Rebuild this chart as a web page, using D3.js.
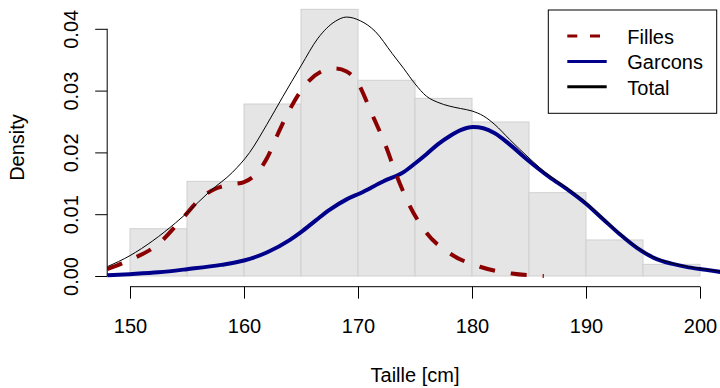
<!DOCTYPE html>
<html><head><meta charset="utf-8">
<script src="https://cdn.jsdelivr.net/npm/d3@7"></script>
<style>
html,body{margin:0;padding:0;background:#fff;}
text{font-family:"Liberation Sans",Arial,Helvetica,sans-serif;}
</style></head>
<body>
<svg id="chart" width="720" height="388"></svg>
<script>
// ---- data ----
const binStarts = [150,155,160,165,170,175,180,185,190,195];
const binWidth = 5;
const histDensity = [0.00765,0.01532,0.02783,0.04315,0.03167,0.02875,0.02492,0.01348,0.00583,0.00189];

const totalX = [148,150,152,154,155,157,159,160.5,162,163.4,165,166.5,168,169,170.2,171.5,173,174,175,176,177,178,179,180,181,182,183.3,185,186.8,188.3,190,191.5,193,194.5,196,197.5,199,200.5,202];
const totalY = [0.0015,0.0033,0.0057,0.0086,0.0102,0.0137,0.0168,0.0200,0.0245,0.0290,0.0340,0.0385,0.0412,0.0419,0.0413,0.0396,0.0360,0.0336,0.0311,0.0291,0.0281,0.0275,0.0271,0.0267,0.0259,0.0245,0.0221,0.0191,0.0162,0.0143,0.0119,0.0093,0.0068,0.0046,0.0030,0.0021,0.0015,0.0011,0.0007];

const garconsX = [148,150,152.5,155,158,160,162,164,165,166.3,167.5,169,170.2,172.2,174,175,176,177,178.1,179,180.1,181,182,183.3,184.8,186.8,188.3,190,191.5,193,194.5,196,197.5,199,200.5,202];
const garconsY = [0.0001,0.0003,0.0006,0.0011,0.0018,0.0025,0.0038,0.0058,0.0071,0.0090,0.0107,0.0124,0.0134,0.0153,0.0168,0.0182,0.0197,0.0213,0.0227,0.0236,0.0241,0.0239,0.0231,0.0213,0.0189,0.0160,0.0141,0.0117,0.0092,0.0067,0.0045,0.0029,0.0020,0.0014,0.0010,0.0006];

const fillesX = [148,150,152.5,154.5,156.4,157.6,158.8,160,161.1,162,162.9,164,165.5,166.7,168,169,169.9,171.2,172.4,173.4,174.5,176,178.1,180.7,183.5,186.3];
const fillesY = [0.0011,0.0026,0.0052,0.0091,0.0129,0.0142,0.0148,0.0152,0.0166,0.0190,0.0227,0.0269,0.0312,0.0330,0.0336,0.0331,0.0315,0.0263,0.0212,0.0162,0.0115,0.0070,0.0036,0.0015,0.0004,0.0000];

const xTicks = [150,160,170,180,190,200];
const yTicks = [0,0.01,0.02,0.03,0.04];
const yTickLabels = ["0.00","0.01","0.02","0.03","0.04"];
const legendLabels = ["Filles","Garcons","Total"];

// ---- scales ----
const x = d3.scaleLinear().domain([148,202]).range([107.2,722.8]);
const y = d3.scaleLinear().domain([0,0.04]).range([276,28.8]);

const svg = d3.select("#chart");
svg.append("rect").attr("width",720).attr("height",388).attr("fill","#fff");

svg.append("clipPath").attr("id","plotclip").append("rect")
  .attr("x",107.2).attr("y",6).attr("width",615.6).attr("height",281);

const plot = svg.append("g").attr("clip-path","url(#plotclip)");

// histogram
plot.selectAll("rect.bar").data(binStarts).enter().append("rect")
  .attr("class","bar")
  .attr("x",(d)=>x(d)).attr("width",(d)=>x(d+binWidth)-x(d))
  .attr("y",(d,i)=>y(histDensity[i])).attr("height",(d,i)=>y(0)-y(histDensity[i]))
  .attr("fill","#e5e5e5").attr("stroke","#d0d0d0").attr("stroke-width",1);

const line = d3.line().x(d=>x(d[0])).y(d=>y(d[1])).curve(d3.curveMonotoneX);
const zip = (a,b)=>a.map((v,i)=>[v,b[i]]);

plot.append("path").datum(zip(garconsX,garconsY)).attr("d",line)
  .attr("fill","none").attr("stroke","#00008b").attr("stroke-width",4);
plot.append("path").datum(zip(fillesX,fillesY)).attr("d",line)
  .attr("fill","none").attr("stroke","#8b0000").attr("stroke-width",4)
  .attr("stroke-dasharray","16,16");
plot.append("path").datum(zip(totalX,totalY)).attr("d",line)
  .attr("fill","none").attr("stroke","#000").attr("stroke-width",1);

// x axis
const xAxisG = svg.append("g").attr("transform","translate(0,286.7)")
  .call(d3.axisBottom(x).tickValues(xTicks).tickSize(12).tickPadding(20).tickFormat(d3.format("d")));
xAxisG.select(".domain").remove();
xAxisG.append("line").attr("x1",x(xTicks[0])).attr("x2",x(xTicks[xTicks.length-1]))
  .attr("stroke","#000");
xAxisG.selectAll(".tick line").attr("stroke","#000");
xAxisG.selectAll(".tick text").attr("font-size",20).attr("fill","#000")
  .attr("font-family","Liberation Sans, Arial, sans-serif");

// y axis
const yAxisG = svg.append("g").attr("transform","translate(107.2,0)")
  .call(d3.axisLeft(y).tickValues(yTicks).tickSize(12).tickFormat((d,i)=>yTickLabels[i]));
yAxisG.select(".domain").remove();
yAxisG.append("line").attr("y1",y(yTicks[0])).attr("y2",y(yTicks[yTicks.length-1])).attr("stroke","#000");
yAxisG.selectAll(".tick line").attr("stroke","#000");
yAxisG.selectAll(".tick text")
  .attr("x",null).attr("dy",null).attr("text-anchor","middle")
  .attr("transform","translate(-29.2,0) rotate(-90)")
  .attr("font-size",20).attr("fill","#000")
  .attr("font-family","Liberation Sans, Arial, sans-serif");

// axis titles
svg.append("text").attr("x",415).attr("y",382).attr("text-anchor","middle")
  .attr("font-size",20).text("Taille [cm]");
svg.append("text").attr("transform","translate(24,147.5) rotate(-90)").attr("text-anchor","middle")
  .attr("font-size",20).text("Density");

// legend
const lg = svg.append("g");
lg.append("rect").attr("x",548.3).attr("y",10).attr("width",168.4).attr("height",103.3)
  .attr("fill","#fff").attr("stroke","#000").attr("stroke-width",1);
const legColors = ["#8b0000","#00008b","#000"];
const legDash = ["10,12.7",null,null];
legendLabels.forEach((lab,i)=>{
  const cy = 36 + i*25.4;
  lg.append("line").attr("x1",567.3).attr("x2",606.7).attr("y1",cy).attr("y2",cy)
    .attr("stroke",legColors[i]).attr("stroke-width",3)
    .attr("stroke-dasharray",legDash[i]);
  lg.append("text").attr("x",627.3).attr("y",cy+8).attr("font-size",20).text(lab);
});
</script>
</body></html>
